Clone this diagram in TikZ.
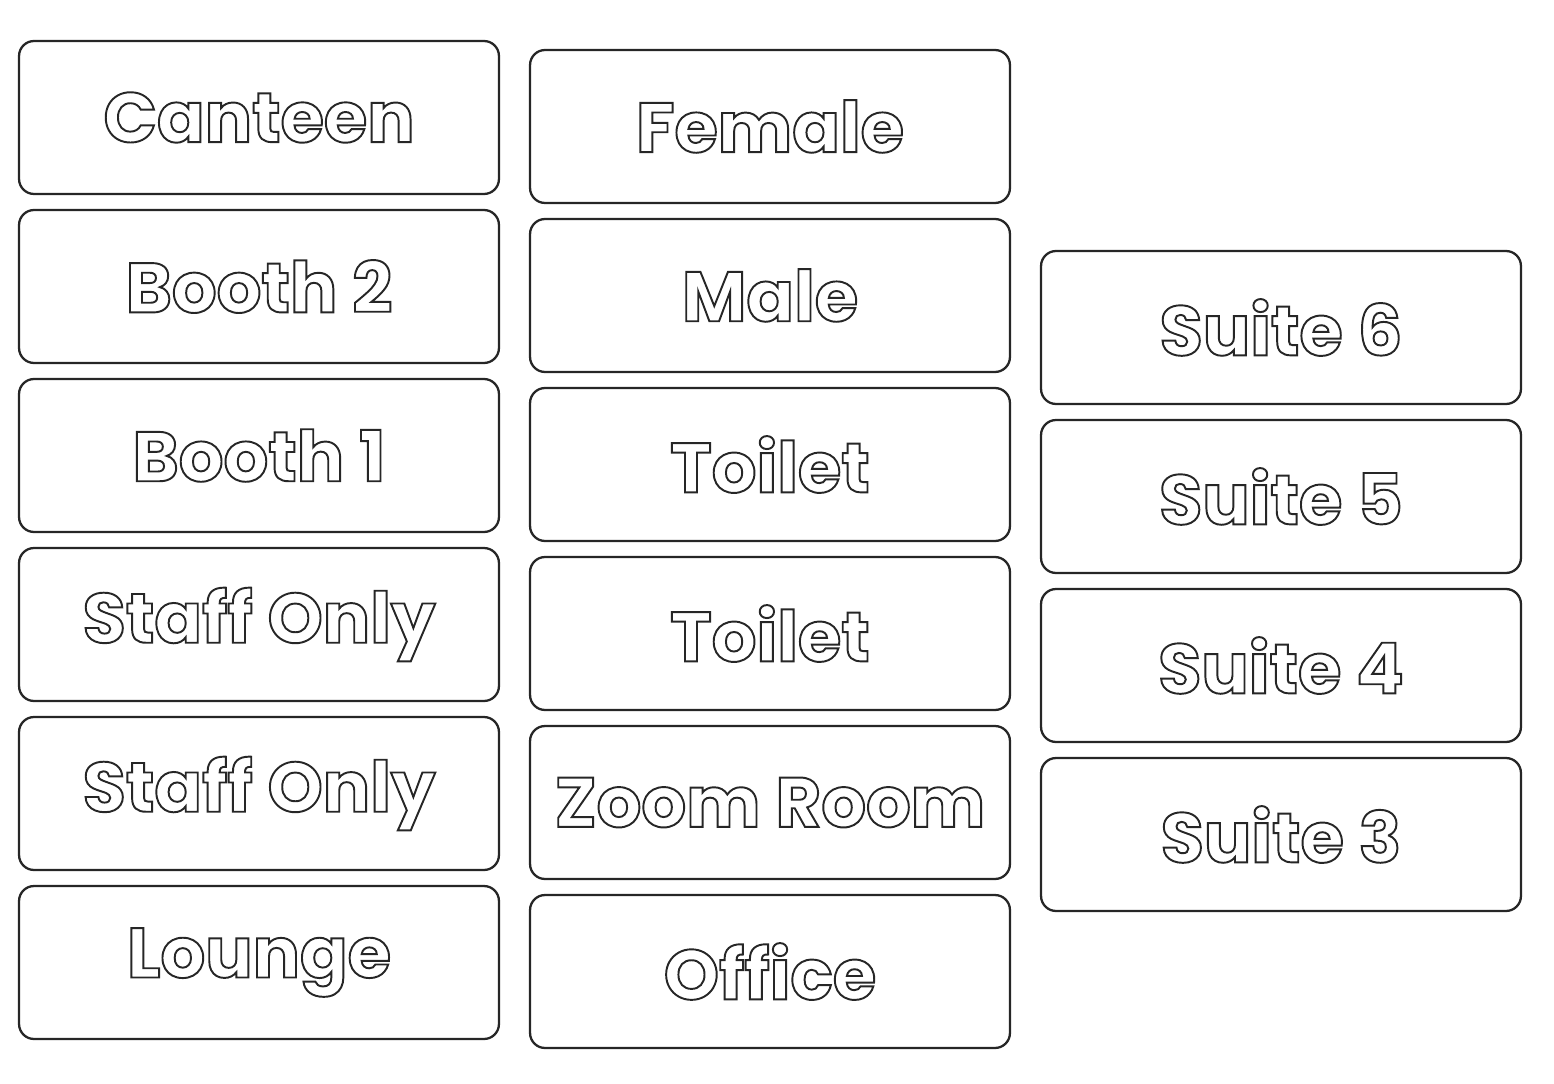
\documentclass[tikz,border=0pt]{standalone}
\usepackage{fontspec}
\setmainfont{Poppins}
\newcommand{\hollow}[1]{\special{pdf:code 1 Tr 1.1 w}#1\special{pdf:code 0 Tr}}
\begin{document}
\begin{tikzpicture}[x=0.02cm,y=-0.02cm,
  sign/.style={draw=black!85,line width=1.3pt,rounded corners=0.3cm,minimum width=9.6cm,minimum height=3.06cm,
    font=\fontsize{40}{40}\selectfont\bfseries,text=black!85}]
\useasboundingbox (0,0) rectangle (1554,1084);
\foreach \t [count=\i] in {Canteen,Booth 2,Booth 1,Staff Only,Staff Only,Lounge}
  \node[sign] (a\i) at (259,{117.5+169*(\i-1)}) {\hollow{\t}};
\foreach \t [count=\i] in {Female,Male,Toilet,Toilet,Zoom Room,Office}
  \node[sign] (b\i) at (770,{126.5+169*(\i-1)}) {\hollow{\t}};
\foreach \t [count=\i] in {Suite 6,Suite 5,Suite 4,Suite 3}
  \node[sign] (c\i) at (1281,{327.5+169*(\i-1)}) {\hollow{\t}};
\end{tikzpicture}
\end{document}
